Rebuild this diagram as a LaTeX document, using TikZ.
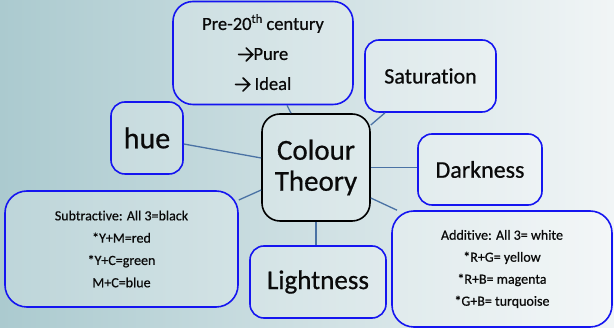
\documentclass[tikz,border=0pt]{standalone}
\usepackage{fontspec}
\setmainfont{Carlito}[Ligatures=NoCommon, RawFeature={embolden=0.6}]
\definecolor{bgL}{HTML}{ABCACF}
\definecolor{bgR}{HTML}{F1F5F6}
\definecolor{boxblue}{HTML}{1515F0}
\definecolor{linkblue}{HTML}{4A72A4}
\definecolor{txt}{HTML}{0A0A0A}
\newcommand\arr{\tikz[x=1pt,y=1pt,baseline=0pt,sharp corners]\draw[txt, line width=1.7pt,
  line cap=round, line join=miter] (0,5.5)--(13.5,5.5) (7.5,12)--(14,5.5)--(7.5,-1);}
\newcommand\supth{\raisebox{0.38em}{\fontsize{12.5}{12}\selectfont th}}
\begin{document}
\begin{tikzpicture}[x=1pt,y=-1pt,
  box/.style={draw=boxblue, line width=1.6pt, rounded corners=14pt,
    fill=white, fill opacity=0.22, text opacity=1, text=txt,
    align=center, inner sep=0pt},
  hub/.style={box, draw=black, rounded corners=18pt},
  link/.style={draw=linkblue, line width=1.3pt}]
\useasboundingbox (0,0) rectangle (614,328);
\shade[left color=bgL, right color=bgR] (0,0) rectangle (614,328);

\node[box, rounded corners=20pt, minimum width=180pt, minimum height=103pt,
  font=\fontsize{18.5}{30}\selectfont] (pre) at (263,53)
  {Pre-20\supth{} century\\\arr Pure\\\arr\ Ideal};
\node[box, minimum width=72pt, minimum height=72pt,
  font=\fontsize{30}{30}\selectfont] (hue) at (147,138) {hue};
\node[box, minimum width=131pt, minimum height=72pt,
  font=\fontsize{22}{26}\selectfont] (sat) at (430.5,76) {Saturation};
\node[box, minimum width=124pt, minimum height=71pt,
  font=\fontsize{24}{26}\selectfont] (dark) at (480,169.5) {Darkness};
\node[hub, minimum width=108pt, minimum height=107pt,
  font=\fontsize{29}{31}\selectfont] (ct) at (316,167.5) {Colour\\Theory};
\node[box, rounded corners=22pt, minimum width=233pt, minimum height=116pt,
  font=\fontsize{14}{22.3}\selectfont] (sub) at (121.5,249)
  {Subtractive: All 3=black\\*Y+M=red\\*Y+C=green\\M+C=blue};
\node[box, minimum width=136pt, minimum height=72pt,
  font=\fontsize{27}{30}\selectfont] (light) at (318,282) {Lightness};
\node[box, rounded corners=22pt, minimum width=220pt, minimum height=116pt,
  font=\fontsize{14}{22}\selectfont] (add) at (502,269)
  {Additive: All 3= white\\*R+G= yellow\\*R+B= magenta\\*G+B= turquoise};

\draw[link] ([yshift=-6pt]hue.east) -- ([yshift=9.5pt]ct.west);
\draw[link] ([xshift=24pt]pre.south) -- ([xshift=-25pt]ct.north);
\draw[link] ([xshift=-45.5pt]sat.south) -- ([yshift=42.5pt]ct.east);
\draw[link] (ct.east) -- (ct.east -| dark.west);
\draw[link] ([yshift=-30.5pt]ct.east) -- ([xshift=-105pt]add.north);
\draw[link] (ct.south) -- (ct.south |- light.north);
\draw[link] ([yshift=49pt]sub.east) -- ([yshift=-22.5pt]ct.west);
\end{tikzpicture}
\end{document}
